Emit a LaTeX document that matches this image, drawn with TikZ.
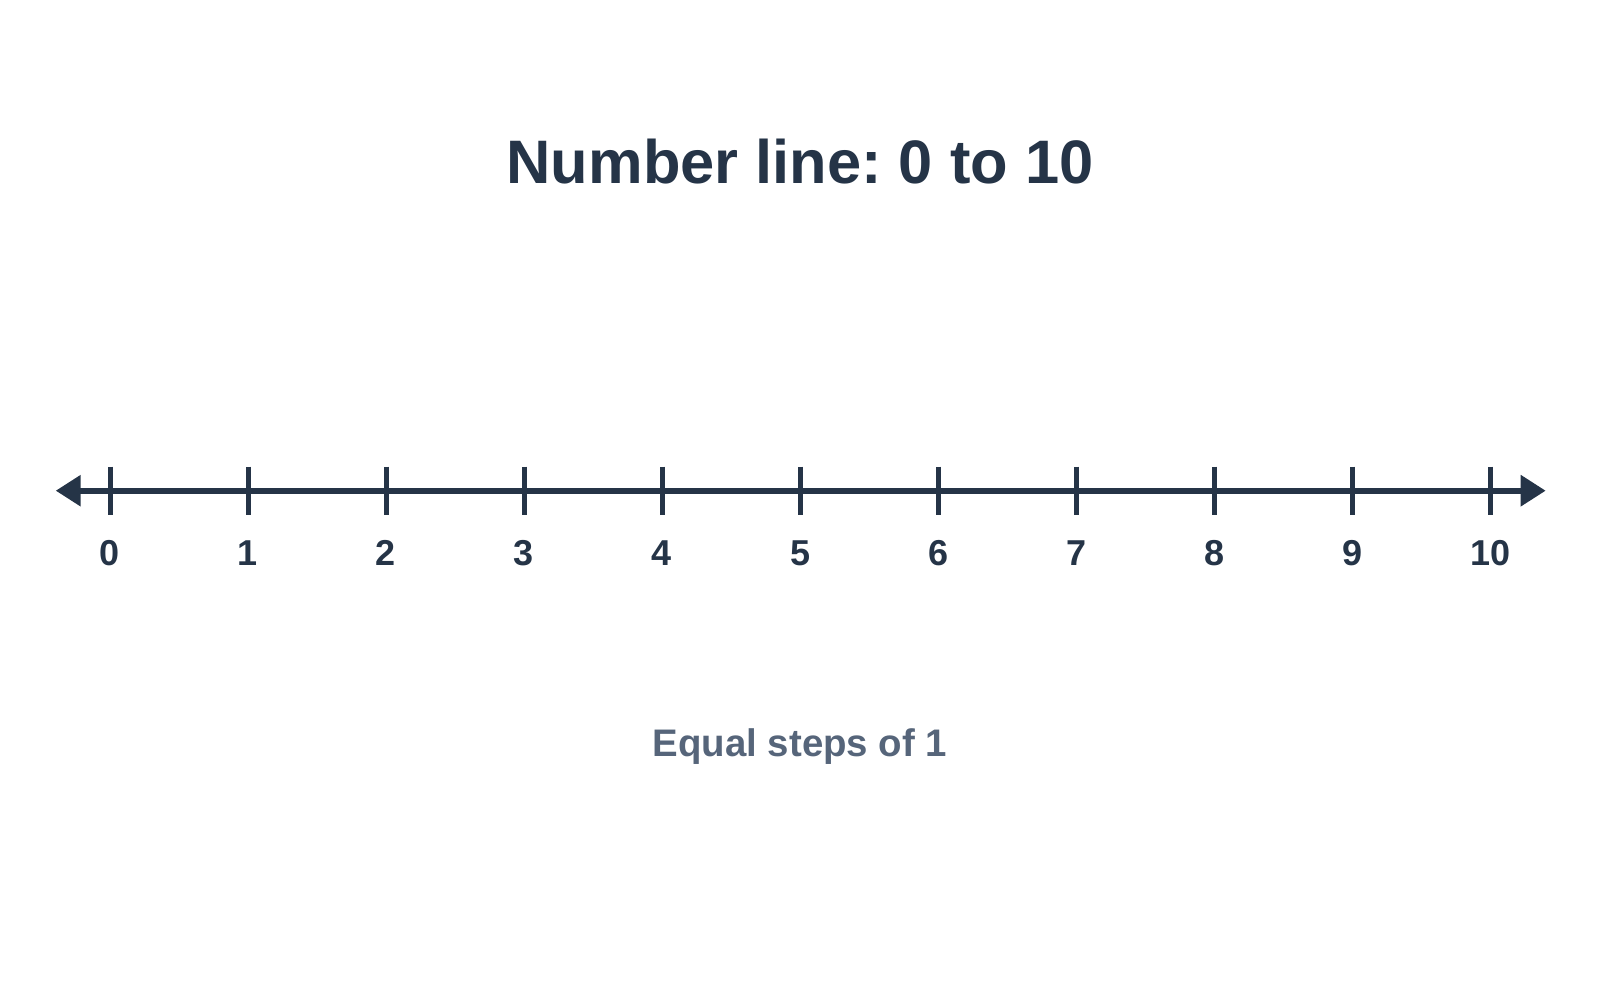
\documentclass[tikz,border=0pt]{standalone}
\usepackage{fontspec}
\setmainfont{Liberation Sans}
\usetikzlibrary{arrows.meta}
\definecolor{ink}{HTML}{253447}
\definecolor{muted}{HTML}{56657A}
\frenchspacing
\begin{document}
\begin{tikzpicture}[x=0.5pt, y=-0.5pt, line join=round, >={Triangle[length=12.5pt,width=15pt]},
 numlabel/.style={anchor=base, text=ink, font=\fontsize{18}{22}\selectfont\bfseries}]
 \def\xzero{110} \def\xstep{138} \def\yaxis{490.7}
 \useasboundingbox (0,0) rectangle (1600,1000);
 \node[anchor=base, text=ink, font=\fontsize{30.7}{36}\selectfont\bfseries] (title) at (800,184) {Number line: 0 to 10};
 \coordinate (lend) at (55.7,\yaxis);
 \coordinate (rend) at (1545.7,\yaxis);
 \draw[ink, line width=3pt, <->] (lend) -- (rend);
 \foreach \n in {0,...,10}{
  \draw[ink, line width=2.5pt] (\xzero+\xstep*\n,\yaxis-24) -- (\xzero+\xstep*\n,\yaxis+24);
  \node[numlabel] (num\n) at (\xzero+\xstep*\n,565) {\n};
 }
 \node[anchor=base, text=muted, font=\fontsize{19.2}{23}\selectfont\bfseries] (caption) at (800,756.7) {Equal steps of 1};
\end{tikzpicture}
\end{document}
